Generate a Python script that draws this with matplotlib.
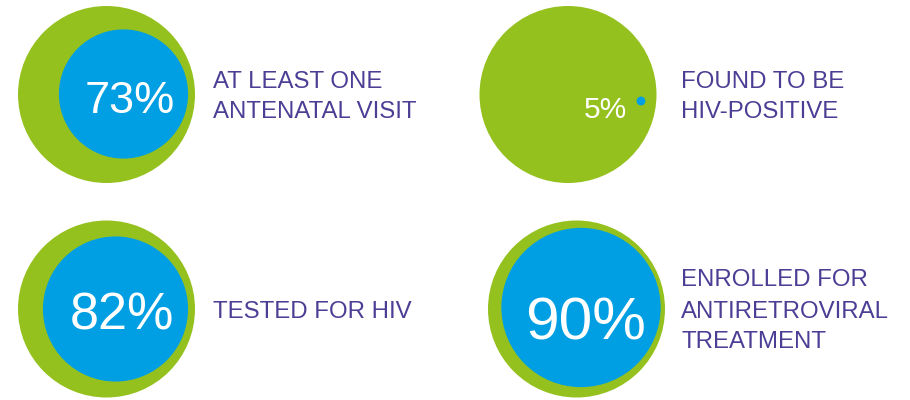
import matplotlib.pyplot as plt
from matplotlib.patches import Circle

# indicator values (percent) and their captions
percentages = [73, 5, 82, 90]
captions = [
    ["AT LEAST ONE", "ANTENATAL VISIT"],
    ["FOUND TO BE", "HIV-POSITIVE"],
    ["TESTED FOR HIV"],
    ["ENROLLED FOR", "ANTIRETROVIRAL", "TREATMENT"],
]

# layout (pixel units): outer circle centre, inner circle shift, value text anchor
centers = [(106.5, 94.5), (568, 94.5), (106.5, 309), (576.5, 309)]
inner_shift = [(17, -0.5), (73, 6.5), (9, 0), (4.5, -1.5)]
value_pos = [(130, 113), (605, 118), (122, 330), (585.5, 340)]
value_size = [32.5, 21.5, 37.5, 43.5]
caption_x = [213, 681, 213, 681]
outer_r = 88.5

green = "#95c11f"
blue = "#009fe3"
purple = "#4b3f95"
font = "Liberation Sans"

fig = plt.figure(figsize=(9.1, 4.0), dpi=100)
ax = fig.add_axes([0, 0, 1, 1])
ax.set_xlim(0, 910)
ax.set_ylim(400, 0)
ax.axis("off")

for i, pct in enumerate(percentages):
    cx, cy = centers[i]
    ax.add_patch(Circle((cx, cy), outer_r, color=green, lw=0))
    dx, dy = inner_shift[i]
    ax.add_patch(Circle((cx + dx, cy + dy), outer_r * pct / 100, color=blue, lw=0))

    tx, ty = value_pos[i]
    ax.text(tx, ty, f"{pct}%", color="white", fontsize=value_size[i],
            family=font, ha="center", va="baseline")

    lines = captions[i]
    first = cy - (len(lines) - 1) * 31 / 2 + 8.5
    for j, line in enumerate(lines):
        ax.text(caption_x[i], first + j * 31, line, color=purple, fontsize=17.3,
                family=font, ha="left", va="baseline")

fig.savefig("out.png", dpi=100)
